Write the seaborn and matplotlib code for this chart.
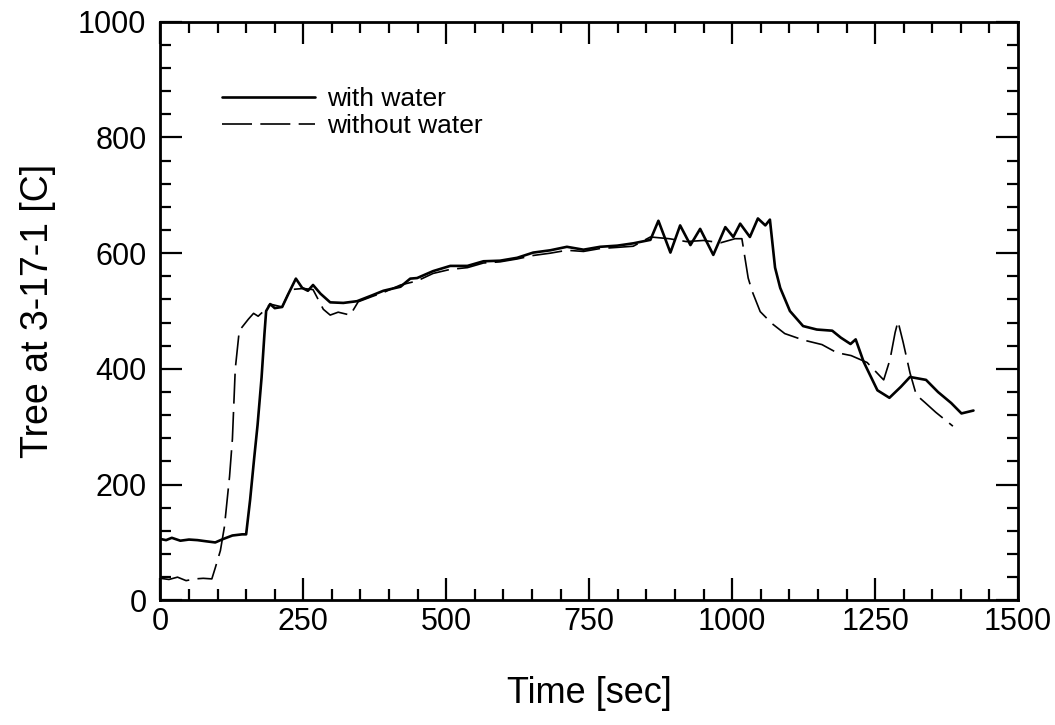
import matplotlib
matplotlib.use("Agg")
import matplotlib.pyplot as plt
from matplotlib.ticker import MultipleLocator
import seaborn as sns
import pandas as pd

# ---- data ----
t_with = [0, 10, 20, 35, 50, 65, 80, 96, 110, 126, 143, 150, 157, 164, 170, 177,
          182, 185, 192, 200, 213, 224, 237, 248, 258, 267, 280, 297, 320, 344,
          370, 390, 420, 437, 449, 477, 507, 537, 565, 594, 624, 652, 682, 711,
          740, 769, 799, 827, 857, 871, 892, 909, 927, 944, 967, 988, 1002, 1014,
          1031, 1045, 1058, 1066, 1075, 1084, 1101, 1124, 1148, 1175, 1190, 1207,
          1216, 1230, 1254, 1275, 1295, 1311, 1339, 1360, 1383, 1401, 1422]
v_with = [106, 104, 108, 103, 105, 104, 102, 100, 106, 112, 114, 114, 174, 245, 303, 385,
          460, 500, 512, 505, 507, 530, 556, 540, 535, 545, 530, 515, 514, 517,
          527, 535, 542, 556, 557, 569, 578, 578, 586, 587, 592, 601, 605, 611,
          606, 611, 613, 617, 623, 656, 601, 648, 614, 642, 597, 645, 628, 651,
          628, 660, 648, 658, 575, 540, 500, 474, 468, 466, 454, 443,
          451, 412, 363, 350, 369, 386, 381, 360, 341, 323, 328]

t_without = [0, 15, 30, 45, 61, 75, 90, 96, 105, 112, 121, 126, 131, 138, 154, 163,
             171, 184, 192, 213, 227, 250, 267, 285, 297, 311, 332, 346, 370, 390,
             420, 449, 477, 507, 537, 565, 594, 624, 652, 682, 711, 740, 769, 799,
             827, 857, 890, 920, 950, 980, 1005, 1017, 1028, 1035, 1049, 1070, 1092,
             1124, 1157, 1183, 1208, 1236, 1260, 1265, 1276, 1285, 1290, 1299, 1311,
             1322, 1337, 1356, 1386]
v_without = [38, 36, 40, 34, 37, 38, 37, 56, 86, 127, 214, 279, 400, 466, 486, 496,
             491, 503, 512, 507, 537, 539, 537, 503, 493, 498, 493, 516, 525, 532,
             545, 552, 565, 572, 575, 583, 585, 590, 596, 600, 605, 603, 608, 610,
             612, 628, 625, 620, 622, 618, 625, 625, 557, 534, 499, 478, 461,
             450, 442, 428, 423, 411, 386, 381, 416, 463, 482, 446, 393,
             355, 342, 325, 301]

series_labels = ["with water", "without water"]
x_ticks = [0, 250, 500, 750, 1000, 1250, 1500]
y_ticks = [0, 200, 400, 600, 800, 1000]

sns.set_style("ticks")
plt.rcParams["font.family"] = ["Liberation Sans", "DejaVu Sans"]
plt.rcParams["text.color"] = "black"
plt.rcParams["axes.labelcolor"] = "black"
plt.rcParams["xtick.color"] = "black"
plt.rcParams["ytick.color"] = "black"

fig = plt.figure(figsize=(10.55, 7.25), dpi=100)
ax = fig.add_axes([0.152, 0.172, 0.813, 0.798])

df_w = pd.DataFrame({"t": t_with, "v": v_with})
df_wo = pd.DataFrame({"t": t_without, "v": v_without})

sns.lineplot(data=df_w, x="t", y="v", ax=ax, color="black", lw=1.9,
             estimator=None, sort=False, label=series_labels[0])
sns.lineplot(data=df_wo, x="t", y="v", ax=ax, color="black", lw=1.2,
             linestyle=(0, (18, 5)), estimator=None, sort=False,
             label=series_labels[1])

ax.set_xlim(0, 1500)
ax.set_ylim(0, 1000)
ax.set_xticks(x_ticks)
ax.set_yticks(y_ticks)
ax.xaxis.set_minor_locator(MultipleLocator(50))
ax.yaxis.set_minor_locator(MultipleLocator(40))
ax.tick_params(which="both", direction="in", top=True, right=True,
               width=1.6, color="black", labelcolor="black")
ax.tick_params(which="major", length=16, labelsize=22)
ax.tick_params(axis="x", which="major", pad=5)
ax.tick_params(axis="y", which="major", pad=10)
ax.tick_params(which="minor", length=8)
for s in ax.spines.values():
    s.set_linewidth(2.0)
    s.set_color("black")

ax.set_xlabel("Time [sec]", fontsize=26, labelpad=28, color="black")
ax.set_ylabel("Tree at 3-17-1 [C]", fontsize=27, labelpad=16, color="black")

leg = ax.legend(loc="upper left", bbox_to_anchor=(0.06, 0.905), frameon=False,
                fontsize=19, handlelength=3.5, handletextpad=0.45,
                labelspacing=0.1, borderaxespad=0)
for txt in leg.get_texts():
    txt.set_color("black")

fig.savefig("out.png", dpi=100)
